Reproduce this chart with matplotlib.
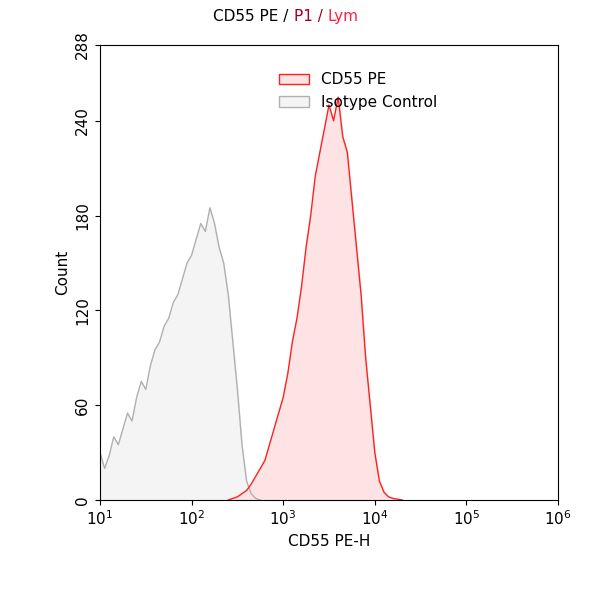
import matplotlib
matplotlib.use("Agg")
import matplotlib.pyplot as plt
from matplotlib.patches import Patch
import numpy as np

iso_log = [1.0,1.05,1.1,1.15,1.2,1.25,1.3,1.35,1.4,1.45,1.5,1.55,1.6,1.65,1.7,1.75,1.8,1.85,1.9,1.95,2.0,2.05,2.1,2.15,2.2,2.25,2.3,2.35,2.4,2.45,2.5,2.55,2.6,2.65,2.7,2.75]
iso_cnt = [30,20,28,40,35,45,55,50,65,75,70,85,95,100,110,115,125,130,140,150,155,165,175,170,185,175,160,150,130,100,70,35,12,4,1,0]
cd_log = [2.4,2.5,2.6,2.65,2.7,2.75,2.8,2.85,2.9,2.95,3.0,3.05,3.1,3.15,3.2,3.25,3.3,3.35,3.4,3.45,3.5,3.55,3.6,3.65,3.7,3.75,3.8,3.85,3.9,3.95,4.0,4.05,4.1,4.15,4.2,4.3]
cd_cnt = [0,2,6,10,15,20,25,35,45,55,65,80,100,115,135,160,180,205,220,235,250,240,255,230,220,190,160,130,90,60,30,12,5,2,1,0]

fig = plt.figure(figsize=(5.93,6.0), dpi=100)
ax = fig.add_axes([100/593, 100/600, 458/593, 455/600])
ix = 10**np.array(iso_log); cx = 10**np.array(cd_log)
ax.fill_between(ix, iso_cnt, color="#f4f4f4")
ax.plot(ix, iso_cnt, color="#b0b0b0", lw=1)
ax.fill_between(cx, cd_cnt, color="#fde3e3")
ax.plot(cx, cd_cnt, color="#ff2020", lw=1)
ax.set_xscale("log"); ax.set_xlim(10, 1e6); ax.set_ylim(0, 288)
ax.set_yticks([0,60,120,180,240,288])
for l in ax.get_yticklabels(): l.set_rotation(90); l.set_va("center")
ax.tick_params(labelsize=11)
ax.minorticks_off()
ax.set_xlabel("CD55 PE-H", fontsize=11)
ax.set_ylabel("Count", fontsize=11)
ax.legend(handles=[Patch(fc="#fde3e3", ec="#ff2020", label="CD55 PE"),
                   Patch(fc="#f4f4f4", ec="#b0b0b0", label="Isotype Control")],
          loc="upper left", bbox_to_anchor=(0.36, 0.97), frameon=False, fontsize=11)
t1 = fig.text(0.36, 0.965, "CD55 PE / ", fontsize=11)
fig.canvas.draw()
r = fig.canvas.get_renderer()
bb = t1.get_window_extent(r)
t2 = fig.text(bb.x1/fig.bbox.width, 0.965, "P1 / ", fontsize=11, color="#a00020")
bb2 = t2.get_window_extent(r)
fig.text(bb2.x1/fig.bbox.width, 0.965, "Lym", fontsize=11, color="#ff2040")
fig.savefig("out.png")
